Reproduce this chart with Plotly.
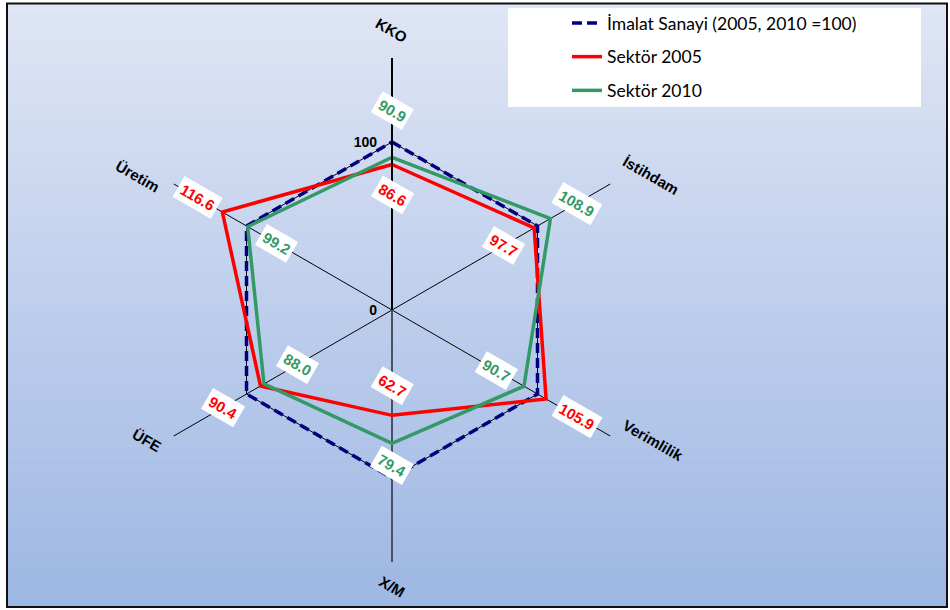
import numpy as np
import plotly.graph_objects as go

# ---------------- data ----------------
categories = ["KKO", "İstihdam", "Verimlilik", "X/M", "ÜFE", "Üretim"]
imalat_sanayi = [100, 100, 100, 100, 100, 100]
sektor_2005 = [86.6, 97.7, 105.9, 62.7, 90.4, 116.6]
sektor_2010 = [90.9, 108.9, 90.7, 79.4, 88.0, 99.2]
radial_tickvals = [0, 100]
radial_ticktext = ["0", "100"]
series_names = ["İmalat Sanayi (2005, 2010 =100)", "Sektör 2005", "Sektör 2010"]

# ---------------- style / layout helpers ----------------
W, H = 950, 610
CX, CY, RPX = 392, 310, 252          # polar centre and outer radius in px
RMAX = 150
spoke_angle = [90, 30, -30, -90, -150, 150]   # screen angle of each category
lbl_off_2005 = [-18, -21, 21, -18, 26, 17]    # data-label shift along the spoke
lbl_off_2010 = [28, 18, -19, 13, -23, -20]
axis_lbl = [(90, 280), (27.4, 292), (-26.5, 292), (-90, 276), (-152, 277), (152.2, 287)]

NAVY, RED, GREEN = "#000080", "#FF0000", "#339966"


def to_paper(r_px, ang):
    a = np.deg2rad(ang)
    px = CX + r_px * np.cos(a)
    py = CY - r_px * np.sin(a)
    return px / W, 1 - py / H


def closed(v):
    return list(v) + [v[0]]


fig = go.Figure()

# X/M spoke drawn darker / thicker as in the original
fig.add_trace(go.Scatterpolar(r=[0, RMAX], theta=["X/M", "X/M"], mode="lines",
                              line=dict(color="#4A5163", width=2),
                              showlegend=False, hoverinfo="skip"))

fig.add_trace(go.Scatterpolar(r=closed(imalat_sanayi), theta=closed(categories), mode="lines",
                              name=series_names[0], legendgroup="a",
                              line=dict(color=NAVY, width=3.5, dash="10px,5px")))
fig.add_trace(go.Scatterpolar(r=closed(sektor_2005), theta=closed(categories), mode="lines",
                              name=series_names[1], legendgroup="b",
                              line=dict(color=RED, width=3.5)))
fig.add_trace(go.Scatterpolar(r=closed(sektor_2010), theta=closed(categories), mode="lines",
                              name=series_names[2], legendgroup="c",
                              line=dict(color=GREEN, width=3.5)))

# ---------------- background gradient & frame ----------------
shapes = []
top = np.array([223, 230, 245])
bot = np.array([158, 184, 228])
n = 60
y_top, y_bot = 4, 607
for i in range(n):
    t = i / (n - 1)
    c = top + (bot - top) * t
    y0 = y_top + (y_bot - y_top) * i / n
    y1 = y_top + (y_bot - y_top) * (i + 1) / n + 0.6
    shapes.append(dict(type="rect", xref="paper", yref="paper", layer="below",
                       x0=7 / W, x1=947 / W, y0=1 - y1 / H, y1=1 - y0 / H,
                       line=dict(width=0), fillcolor="rgb(%d,%d,%d)" % tuple(c.astype(int))))
shapes.append(dict(type="rect", xref="paper", yref="paper", layer="below",
                   x0=7 / W, x1=947 / W, y0=1 - 607 / H, y1=1 - 3.5 / H,
                   line=dict(color="#111111", width=2), fillcolor="rgba(0,0,0,0)"))
# legend white box
shapes.append(dict(type="rect", xref="paper", yref="paper", layer="below",
                   x0=508 / W, x1=921 / W, y0=1 - 107 / H, y1=1 - 8 / H,
                   line=dict(width=0), fillcolor="white"))

# ---------------- annotations ----------------
ann = []
for k, cat in enumerate(categories):
    ang, rp = axis_lbl[k]
    x, y = to_paper(rp, ang)
    ann.append(dict(x=x, y=y, xref="paper", yref="paper", text=cat, showarrow=False,
                    textangle=30, xanchor="center", yanchor="middle",
                    font=dict(family="Liberation Sans, Arial", size=15, color="black", weight="bold")))

for vals, offs, col in [(sektor_2005, lbl_off_2005, RED), (sektor_2010, lbl_off_2010, GREEN)]:
    for k, v in enumerate(vals):
        x, y = to_paper((v + offs[k]) / RMAX * RPX, spoke_angle[k])
        ann.append(dict(x=x, y=y, xref="paper", yref="paper", text="%.1f" % v, showarrow=False,
                        textangle=30, xanchor="center", yanchor="middle",
                        bgcolor="white", borderpad=3,
                        font=dict(family="Liberation Sans, Arial", size=15, color=col, weight="bold")))

fig.update_layout(
    width=W, height=H,
    margin=dict(l=0, r=0, t=0, b=0),
    paper_bgcolor="white",
    shapes=shapes,
    annotations=ann,
    polar=dict(
        domain=dict(x=[(CX - RPX) / W, (CX + RPX) / W],
                    y=[1 - (CY + RPX) / H, 1 - (CY - RPX) / H]),
        bgcolor="rgba(0,0,0,0)",
        gridshape="linear",
        radialaxis=dict(range=[0, RMAX], tickvals=radial_tickvals, ticktext=radial_ticktext,
                        angle=90, tickangle=90, side="counterclockwise",
                        showline=True, linecolor="black", linewidth=2,
                        gridcolor="black", gridwidth=1,
                        ticks="outside", ticklen=9, tickcolor="rgba(0,0,0,0)",
                        tickfont=dict(family="Liberation Sans, Arial", size=14, color="black", weight="bold")),
        angularaxis=dict(direction="clockwise", rotation=90, categoryorder="array",
                         categoryarray=categories, showticklabels=False, ticks="",
                         showline=False, gridcolor="black", gridwidth=1),
    ),
    legend=dict(x=567 / W, y=1 - 5 / H, xanchor="left", yanchor="top",
                bgcolor="rgba(0,0,0,0)", tracegroupgap=8,
                font=dict(family="Lato", size=17.5, color="black")),
    showlegend=True,
)

fig.write_html("out.html", config={"displayModeBar": False},
               post_script="document.body.style.margin='0px';")
